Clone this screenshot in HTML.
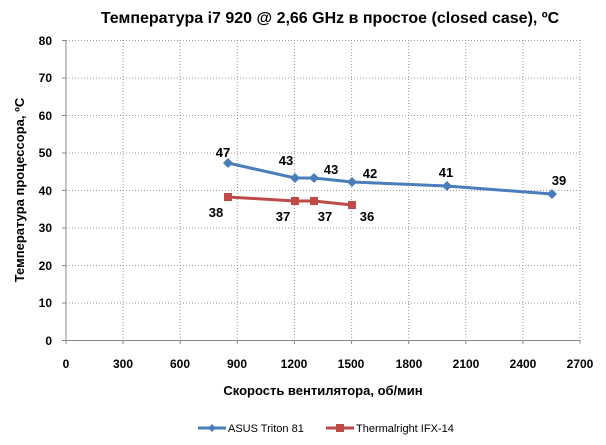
<!DOCTYPE html>
<html><head><meta charset="utf-8"><style>
body{margin:0;background:#fff;}
svg text{font-family:"Liberation Sans",sans-serif;}
</style></head><body>
<svg width="606" height="440" viewBox="0 0 606 440" xmlns="http://www.w3.org/2000/svg">
<rect width="606" height="440" fill="#fff"/>
<text x="330" y="23" text-anchor="middle" font-size="16" font-weight="bold">Температура i7 920 @ 2,66 GHz в простое (closed case), ºC</text>
<g stroke="#999" stroke-width="1" stroke-dasharray="1,2" fill="none">
<line x1="66" y1="40.5" x2="580" y2="40.5"/><line x1="66" y1="78" x2="580" y2="78"/>
<line x1="66" y1="115.5" x2="580" y2="115.5"/><line x1="66" y1="153" x2="580" y2="153"/>
<line x1="66" y1="190.5" x2="580" y2="190.5"/><line x1="66" y1="228" x2="580" y2="228"/>
<line x1="66" y1="265.5" x2="580" y2="265.5"/><line x1="66" y1="303" x2="580" y2="303"/>
<line x1="123.1" y1="40" x2="123.1" y2="340"/><line x1="180.2" y1="40" x2="180.2" y2="340"/>
<line x1="237.3" y1="40" x2="237.3" y2="340"/><line x1="294.4" y1="40" x2="294.4" y2="340"/>
<line x1="351.6" y1="40" x2="351.6" y2="340"/><line x1="408.7" y1="40" x2="408.7" y2="340"/>
<line x1="465.8" y1="40" x2="465.8" y2="340"/><line x1="522.9" y1="40" x2="522.9" y2="340"/>
<line x1="580" y1="40" x2="580" y2="340"/>
</g>
<g stroke="#888" stroke-width="1">
<line x1="66" y1="40" x2="66" y2="340"/><line x1="62" y1="340.5" x2="580" y2="340.5"/>
<line x1="62" y1="40.5" x2="66" y2="40.5"/><line x1="62" y1="78" x2="66" y2="78"/><line x1="62" y1="115.5" x2="66" y2="115.5"/><line x1="62" y1="153" x2="66" y2="153"/><line x1="62" y1="190.5" x2="66" y2="190.5"/><line x1="62" y1="228" x2="66" y2="228"/><line x1="62" y1="265.5" x2="66" y2="265.5"/><line x1="62" y1="303" x2="66" y2="303"/>
<line x1="66" y1="340" x2="66" y2="344"/><line x1="123.1" y1="340" x2="123.1" y2="344"/><line x1="180.2" y1="340" x2="180.2" y2="344"/><line x1="237.3" y1="340" x2="237.3" y2="344"/><line x1="294.4" y1="340" x2="294.4" y2="344"/><line x1="351.6" y1="340" x2="351.6" y2="344"/><line x1="408.7" y1="340" x2="408.7" y2="344"/><line x1="465.8" y1="340" x2="465.8" y2="344"/><line x1="522.9" y1="340" x2="522.9" y2="344"/><line x1="580" y1="340" x2="580" y2="344"/>
</g>
<g font-size="12" font-weight="bold" text-anchor="end">
<text x="52" y="45">80</text><text x="52" y="82">70</text><text x="52" y="120">60</text><text x="52" y="157">50</text><text x="52" y="195">40</text><text x="52" y="232">30</text><text x="52" y="270">20</text><text x="52" y="307">10</text><text x="52" y="345">0</text>
</g>
<g font-size="12" font-weight="bold" text-anchor="middle">
<text x="66" y="368">0</text><text x="123" y="368">300</text><text x="180" y="368">600</text><text x="237" y="368">900</text><text x="294" y="368">1200</text><text x="351" y="368">1500</text><text x="409" y="368">1800</text><text x="466" y="368">2100</text><text x="523" y="368">2400</text><text x="580" y="368">2700</text>
</g>
<text x="323" y="395" text-anchor="middle" font-size="13" font-weight="bold">Скорость вентилятора, об/мин</text>
<text transform="translate(24,190) rotate(-90)" text-anchor="middle" font-size="13" font-weight="bold">Температура процессора, ºC</text>
<polyline points="228,163 295,178 314,178 352,182 447,186 552,194" fill="none" stroke="#4a7ebb" stroke-width="3"/>
<g fill="#4a7ebb">
<path d="M228,158 l5,5 -5,5 -5,-5z"/><path d="M295,173 l5,5 -5,5 -5,-5z"/><path d="M314,173 l5,5 -5,5 -5,-5z"/><path d="M352,177 l5,5 -5,5 -5,-5z"/><path d="M447,181 l5,5 -5,5 -5,-5z"/><path d="M552,189 l5,5 -5,5 -5,-5z"/>
</g>
<polyline points="228,197 295,201 314,201 352,205" fill="none" stroke="#be4b48" stroke-width="3"/>
<g fill="#be4b48">
<rect x="224" y="193" width="8" height="8"/><rect x="291" y="197" width="8" height="8"/><rect x="310" y="197" width="8" height="8"/><rect x="348" y="201" width="8" height="8"/>
</g>
<g font-size="13" font-weight="bold" text-anchor="middle">
<text x="223" y="157">47</text><text x="286" y="165">43</text><text x="331" y="174">43</text><text x="370" y="178">42</text><text x="446" y="177">41</text><text x="559" y="185">39</text>
<text x="216" y="217">38</text><text x="283" y="221">37</text><text x="325" y="221">37</text><text x="367" y="221">36</text>
</g>
<line x1="198" y1="428" x2="226" y2="428" stroke="#4a7ebb" stroke-width="3"/>
<path d="M212,424 l4,4 -4,4 -4,-4z" fill="#4a7ebb"/>
<text x="228" y="432" font-size="11">ASUS Triton 81</text>
<line x1="326" y1="428" x2="354" y2="428" stroke="#be4b48" stroke-width="3"/>
<rect x="336" y="424" width="8" height="8" fill="#be4b48"/>
<text x="356" y="432" font-size="11">Thermalright IFX-14</text>
</svg>
</body></html>
